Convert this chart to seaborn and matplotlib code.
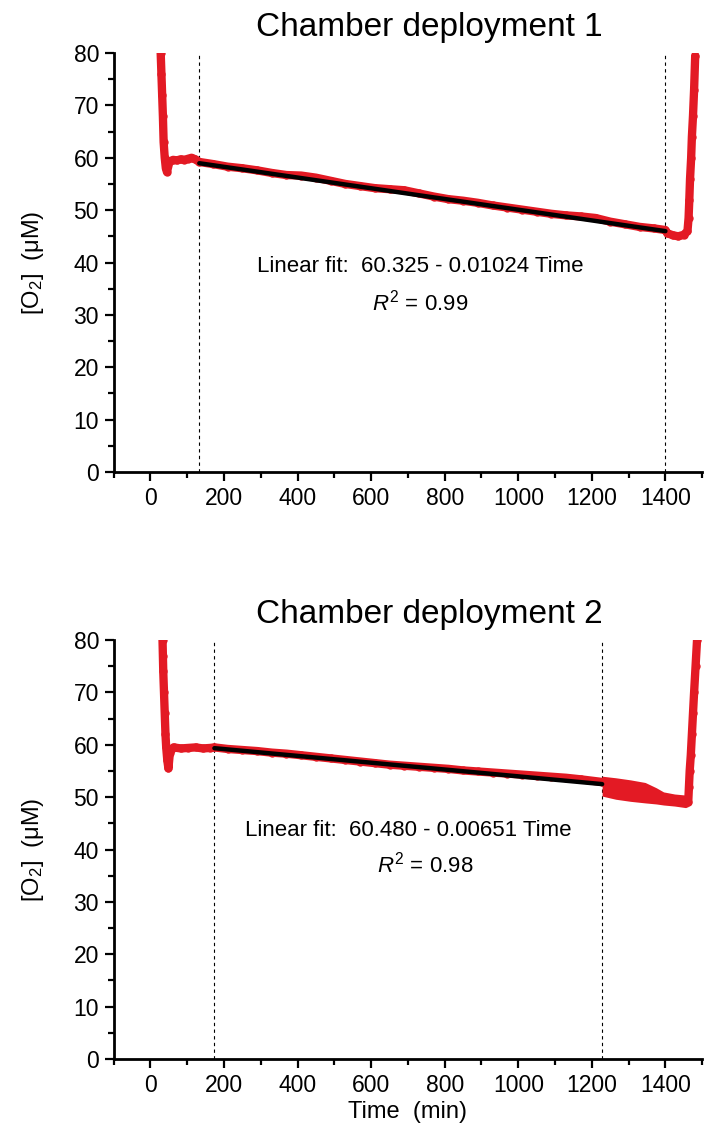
import numpy as np
import pandas as pd
import matplotlib
matplotlib.use("Agg")
import matplotlib.pyplot as plt
import seaborn as sns
from matplotlib.ticker import MultipleLocator

# ---------------- data ----------------
# Deployment 1 trace: time (min) and [O2] (uM)
t1 = [28, 30, 32, 34, 36, 39, 42, 45, 52, 62, 72, 82, 92, 102, 112, 122,
      133, 170, 210, 250, 290, 330, 370, 410, 450, 490, 530, 570, 610, 650,
      690, 730, 770, 810, 850, 890, 930, 970, 1010, 1050, 1090, 1130, 1170,
      1210, 1250, 1290, 1330, 1370, 1400,
      1405, 1420, 1435, 1450, 1460, 1463, 1465, 1467, 1470, 1472, 1475, 1478, 1481]
o1 = [80, 76, 72, 68, 63, 60, 58, 57.3, 59.3, 59.6, 59.5, 59.7, 59.6, 59.8, 60.0, 59.7,
      59.2, 58.8, 58.3, 58.0, 57.6, 57.1, 56.7, 56.6, 56.2, 55.6, 55.0, 54.6, 54.2, 54.0,
      53.8, 53.2, 52.6, 52.1, 51.8, 51.4, 50.9, 50.5, 50.1, 49.7, 49.3, 49.0, 48.8,
      48.5, 47.8, 47.3, 46.8, 46.5, 46.2,
      45.6, 45.2, 45.0, 45.3, 46.0, 48.5, 52, 56, 60, 64, 68, 73, 79.5]
fit1_t = [133, 1400]
fit1_y = [58.96, 45.99]
cut1 = [133, 1400]
fit1_label = "Linear fit:  60.325 - 0.01024 Time"
r2_1 = "0.99"

# Deployment 2 trace
t2 = [33, 34, 35, 37, 39, 41, 43, 46, 49, 53, 63, 83, 103, 123, 143, 163,
      174, 210, 250, 290, 330, 370, 410, 450, 490, 530, 570, 610, 650, 690,
      730, 770, 810, 850, 890, 930, 970, 1010, 1050, 1090, 1130, 1170, 1228]
o2 = [80, 77, 74, 70, 66, 62, 59.5, 57, 55.5, 58.5, 59.5, 59.3, 59.4, 59.5, 59.3, 59.4,
      59.5, 59.2, 59.0, 58.8, 58.5, 58.3, 58.0, 57.7, 57.4, 57.1, 56.8, 56.5, 56.2, 56.0,
      55.8, 55.6, 55.4, 55.1, 54.9, 54.7, 54.5, 54.3, 54.1, 53.9, 53.7, 53.4, 52.9]
# noisy tail after the fit window (band) and final rise
tail2_t = [1228, 1265, 1305, 1345, 1375, 1395, 1425, 1455, 1462]
tail2_hi = [54.0, 53.7, 53.3, 52.8, 51.8, 51.0, 50.6, 50.4, 50.5]
tail2_lo = [50.2, 49.6, 49.2, 48.9, 48.7, 48.5, 48.3, 48.0, 48.2]
rise2_t = [1462, 1464, 1466, 1469, 1472, 1475, 1478, 1482, 1486]
rise2_o = [49, 52, 55, 58, 62, 66, 70, 75, 80]
fit2_t = [174, 1228]
fit2_y = [59.35, 52.49]
cut2 = [174, 1228]
fit2_label = "Linear fit:  60.480 - 0.00651 Time"
r2_2 = "0.98"

# ---------------- style ----------------
sns.set_theme(style="ticks")
plt.rcParams["font.family"] = ["Liberation Sans", "DejaVu Sans"]
plt.rcParams["mathtext.fontset"] = "custom"
plt.rcParams["mathtext.rm"] = "Liberation Sans"
plt.rcParams["mathtext.it"] = "Liberation Sans:italic"
for k in ["text.color", "axes.labelcolor", "xtick.color", "ytick.color",
          "axes.edgecolor"]:
    plt.rcParams[k] = "black"

RED = "#E31A24"

fig = plt.figure(figsize=(7.1, 11.33), dpi=100)
ax1 = fig.add_axes([0.16, 0.5834, 0.829, 0.3698])
ax2 = fig.add_axes([0.16, 0.0653, 0.829, 0.3698])


def style_axis(ax):
    ax.set_xlim(-100, 1500)
    ax.set_ylim(0, 80)
    for s in ["top", "right"]:
        ax.spines[s].set_visible(False)
    for s in ["left", "bottom"]:
        ax.spines[s].set_linewidth(2.0)
        ax.spines[s].set_color("black")
    ax.xaxis.set_major_locator(MultipleLocator(200))
    ax.xaxis.set_minor_locator(MultipleLocator(100))
    ax.yaxis.set_major_locator(MultipleLocator(10))
    ax.yaxis.set_minor_locator(MultipleLocator(5))
    ax.tick_params(which="major", direction="out", length=6.5, width=1.6,
                   labelsize=16.5, pad=4, color="black", labelcolor="black")
    ax.tick_params(which="minor", direction="out", length=4, width=1.6, color="black")
    ax.set_ylabel("[O$_2$]  (\u03bcM)", fontsize=17, color="black")
    ax.yaxis.set_label_coords(-0.115, 0.5)
    ax.grid(False)


def draw(ax, t, o, fit_t, fit_y, cuts, label, r2, title, txt_pos, r2_pos):
    df = pd.DataFrame({"t": t, "o": o})
    sns.lineplot(data=df, x="t", y="o", ax=ax, sort=False, estimator=None,
                 color=RED, lw=6, marker="o", markersize=6, markeredgewidth=0,
                 solid_capstyle="round", solid_joinstyle="round", zorder=3)
    for c in cuts:
        ax.axvline(c, ymin=0, ymax=1, color="black", lw=0.8, ls=(0, (3, 3)), zorder=2)
    fdf = pd.DataFrame({"t": fit_t, "y": fit_y})
    sns.lineplot(data=fdf, x="t", y="y", ax=ax, color="black", lw=3.2,
                 estimator=None, sort=False, zorder=5)
    ax.text(txt_pos[0], txt_pos[1], label, fontsize=16, ha="center", va="baseline",
            color="black")
    ax.text(r2_pos[0], r2_pos[1], "$R^2$ = " + r2, fontsize=16, ha="center",
            va="baseline", color="black")
    ax.text(0.537, 1.04, title, transform=ax.transAxes, fontsize=24,
            ha="center", va="baseline", color="black")


draw(ax1, t1, o1, fit1_t, fit1_y, cut1, fit1_label, r2_1, "Chamber deployment 1",
     (733, 38.2), (733, 30.9))
draw(ax2, t2, o2, fit2_t, fit2_y, cut2, fit2_label, r2_2, "Chamber deployment 2",
     (701, 42.6), (747, 35.7))

# noisy tail band and final rise in deployment 2
ax2.fill_between(tail2_t, tail2_lo, tail2_hi, color=RED, lw=0, zorder=3)
rdf = pd.DataFrame({"t": rise2_t, "o": rise2_o})
sns.lineplot(data=rdf, x="t", y="o", ax=ax2, sort=False, estimator=None,
             color=RED, lw=6, marker="o", markersize=6, markeredgewidth=0,
             solid_capstyle="round", zorder=3)

for ax in (ax1, ax2):
    style_axis(ax)
ax1.set_xlabel("")
ax2.set_xlabel("Time  (min)", fontsize=17, color="black")
ax2.xaxis.set_label_coords(0.5, -0.10)

fig.savefig("out.png", dpi=100)
